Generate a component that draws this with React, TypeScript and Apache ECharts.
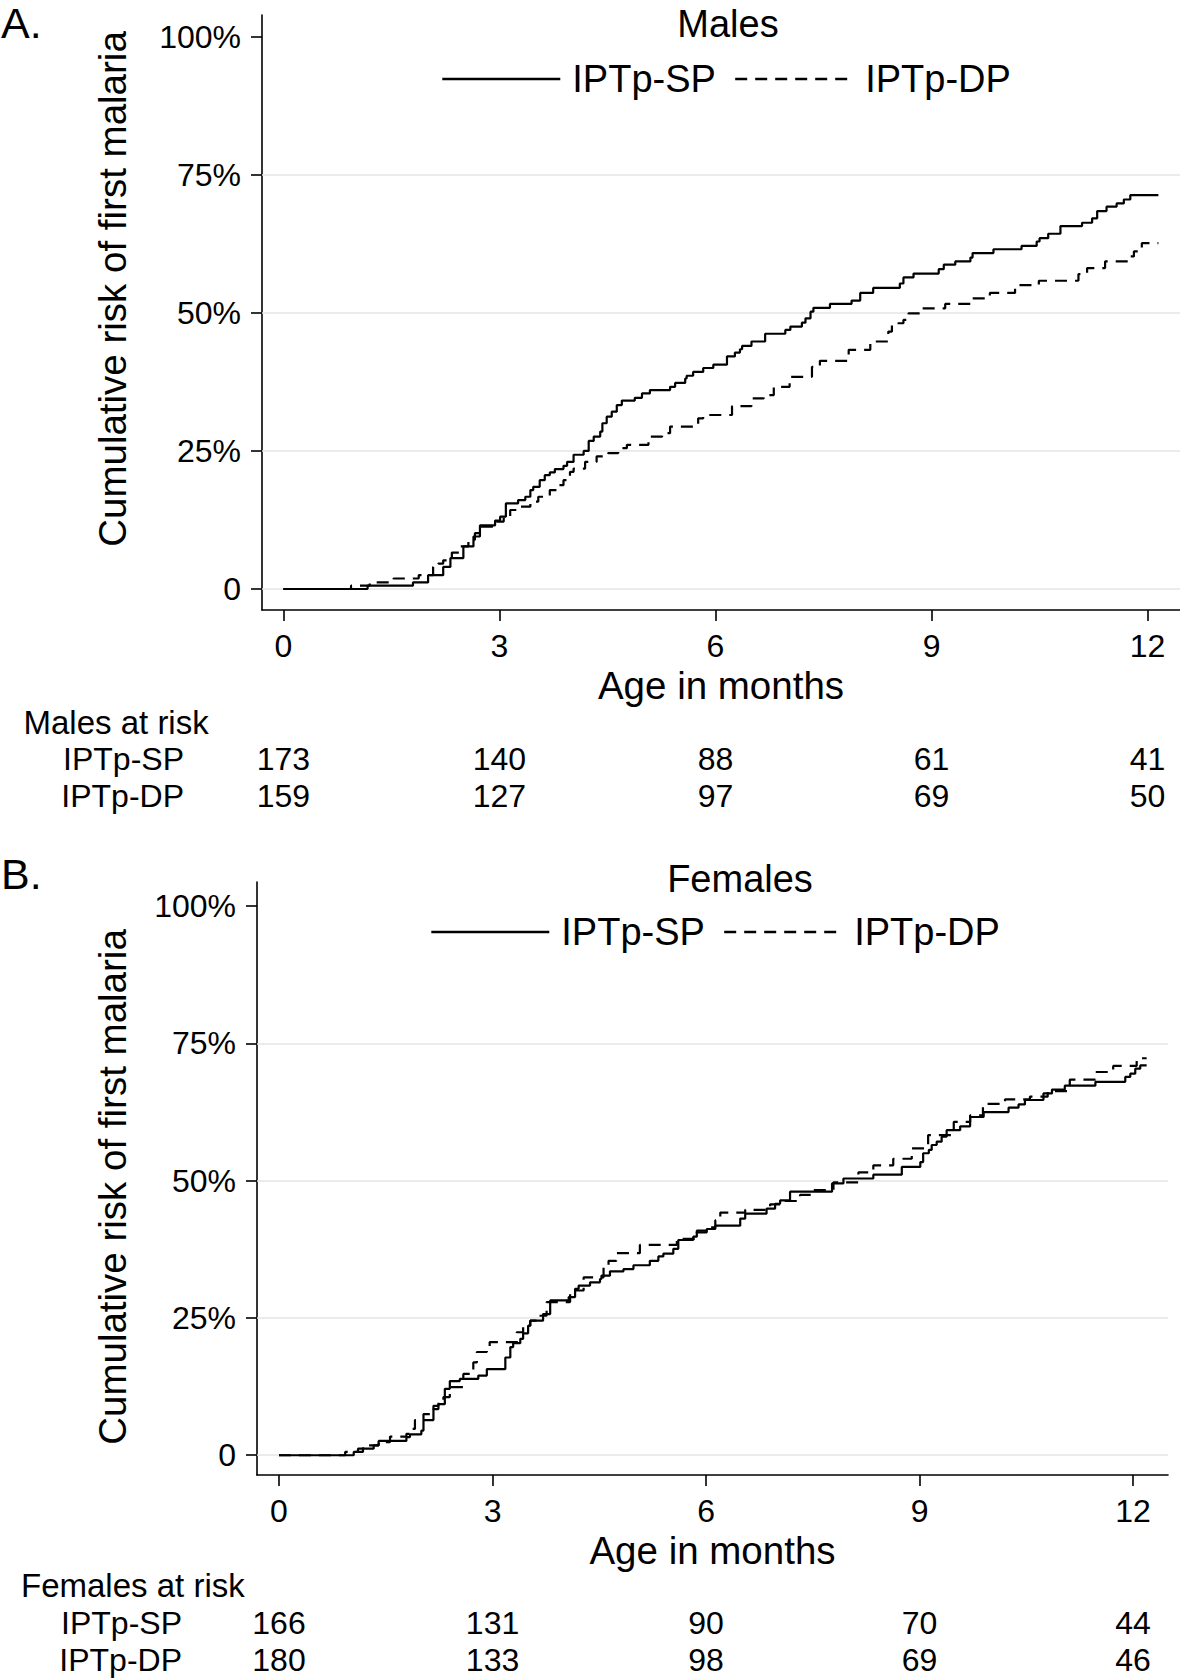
import React, { useEffect, useRef } from "react";
import * as echarts from "echarts";

// ---------- data ----------
const tickMonths = [0, 3, 6, 9, 12];
const yTicks = [0, 25, 50, 75, 100];
const gridLevels = [0, 25, 50, 75];
const groups = ["IPTp-SP", "IPTp-DP"];

// Kaplan-Meier steps: [age in months, cumulative risk %]
const maleSP = [
  [0, 0], [1.17, 0.6], [1.8, 1.2], [2.01, 2.5], [2.22, 4.0], [2.32, 5.6], [2.5, 7.7], [2.64, 9.5],
  [2.73, 11.5], [2.94, 12.4], [3.01, 13.1], [3.09, 15.5], [3.26, 16.1], [3.36, 16.7], [3.43, 17.9],
  [3.47, 18.5], [3.56, 19.7], [3.63, 20.6], [3.7, 21.1], [3.77, 21.7], [3.89, 22.3], [3.94, 23.0],
  [4.03, 24.3], [4.17, 25.0], [4.24, 26.8], [4.31, 27.6], [4.4, 28.5], [4.43, 30.0], [4.49, 31.2],
  [4.56, 32.1], [4.63, 33.3], [4.7, 34.1], [4.88, 34.6], [4.98, 35.4], [5.09, 36.0], [5.37, 36.6],
  [5.44, 37.3], [5.58, 38.1], [5.6, 38.6], [5.69, 39.3], [5.83, 40.0], [5.97, 40.6], [6.16, 42.1],
  [6.27, 42.8], [6.34, 43.4], [6.37, 44.0], [6.5, 44.8], [6.69, 46.2], [6.97, 46.9], [7.04, 47.5],
  [7.2, 48.2], [7.25, 49.0], [7.32, 50.2], [7.36, 50.9], [7.59, 51.6], [7.89, 52.2], [8.01, 53.6],
  [8.19, 54.5], [8.56, 55.3], [8.61, 56.4], [8.75, 57.1], [9.1, 57.9], [9.17, 58.7], [9.33, 59.3],
  [9.54, 60.0], [9.57, 60.8], [9.86, 61.5], [10.25, 62.1], [10.46, 62.9], [10.5, 63.5], [10.62, 64.3],
  [10.79, 65.7], [11.09, 66.3], [11.23, 67.1], [11.3, 68.4], [11.43, 69.2], [11.57, 69.8],
  [11.67, 70.5], [11.76, 71.3], [12.15, 71.3],
];
const maleDP = [
  [0, 0], [0.94, 0.6], [1.2, 1.2], [1.53, 1.9], [1.88, 2.5], [2.08, 4.0], [2.15, 4.6], [2.22, 5.2],
  [2.34, 6.6], [2.45, 7.7], [2.57, 8.9], [2.66, 10.1], [2.76, 11.3], [2.96, 12.2], [3.06, 13.1],
  [3.15, 14.3], [3.24, 14.9], [3.43, 15.8], [3.54, 16.7], [3.7, 17.9], [3.82, 18.8], [3.89, 19.7],
  [3.98, 21.2], [4.03, 21.8], [4.19, 23.0], [4.35, 24.0], [4.51, 24.6], [4.65, 25.5], [4.77, 26.1],
  [5.07, 27.6], [5.26, 28.2], [5.37, 29.4], [5.69, 29.7], [5.76, 30.9], [5.83, 31.5], [6.23, 33.1],
  [6.5, 34.5], [6.67, 35.1], [6.81, 36.6], [7.03, 38.4], [7.34, 40.2], [7.45, 41.3], [7.85, 43.3],
  [8.15, 44.8], [8.4, 46.6], [8.45, 48.1], [8.61, 48.7], [8.68, 49.9], [8.84, 50.8], [9.19, 51.6],
  [9.54, 52.6], [9.81, 53.6], [10.16, 55.0], [10.49, 55.8], [11.04, 57.0], [11.16, 58.1],
  [11.41, 59.3], [11.74, 60.2], [11.81, 61.1], [11.92, 62.6], [12.15, 62.6],
];
const femaleSP = [
  [0, 0], [1.05, 0.6], [1.18, 1.2], [1.33, 1.8], [1.4, 2.6], [1.79, 3.3], [1.84, 3.8], [2.0, 4.5],
  [2.03, 6.4], [2.17, 8.4], [2.24, 9.3], [2.33, 12.1], [2.4, 13.5], [2.54, 13.9], [2.8, 14.5],
  [2.92, 15.7], [3.18, 17.8], [3.25, 19.7], [3.29, 20.4], [3.39, 21.2], [3.43, 22.2], [3.5, 23.6],
  [3.53, 24.5], [3.71, 25.7], [3.81, 28.2], [4.07, 28.8], [4.16, 30.3], [4.21, 30.9], [4.37, 31.5],
  [4.51, 32.1], [4.53, 32.7], [4.65, 33.5], [4.84, 33.9], [4.98, 34.6], [5.21, 35.4], [5.33, 36.2],
  [5.4, 36.7], [5.54, 37.6], [5.61, 39.2], [5.82, 39.8], [5.87, 40.6], [6.01, 41.2], [6.13, 41.8],
  [6.48, 43.1], [6.55, 44.0], [6.85, 44.9], [6.97, 45.8], [7.04, 46.4], [7.18, 48.0], [7.77, 49.5],
  [7.93, 50.4], [8.35, 51.1], [8.75, 52.5], [9.01, 53.4], [9.05, 55.0], [9.13, 55.6], [9.17, 56.5],
  [9.24, 57.1], [9.31, 58.0], [9.38, 59.2], [9.57, 59.9], [9.71, 61.6], [9.9, 62.5], [10.25, 63.3],
  [10.39, 63.9], [10.48, 64.7], [10.74, 65.9], [10.86, 66.6], [11.04, 67.3], [11.47, 68.0],
  [11.89, 68.9], [11.96, 69.5], [12.03, 70.4], [12.1, 71.0], [12.19, 71.0],
];
const femaleDP = [
  [0, 0], [0.93, 0.6], [1.11, 1.2], [1.18, 1.8], [1.4, 2.4], [1.56, 3.4], [1.79, 3.9], [1.84, 4.8],
  [1.91, 6.4], [2.03, 7.5], [2.17, 9.0], [2.24, 10.1], [2.31, 10.6], [2.4, 12.4], [2.59, 14.8],
  [2.73, 16.9], [2.78, 18.8], [2.92, 19.7], [2.96, 20.6], [3.34, 22.4], [3.43, 23.6], [3.53, 24.5],
  [3.62, 25.4], [3.76, 27.9], [4.09, 30.0], [4.28, 32.4], [4.56, 34.5], [4.63, 35.4], [4.74, 36.8],
  [5.07, 38.3], [5.59, 39.4], [5.87, 40.9], [6.06, 41.5], [6.13, 42.8], [6.2, 44.2], [6.55, 44.7],
  [6.9, 45.7], [7.1, 46.3], [7.32, 47.4], [7.51, 48.3], [7.79, 49.7], [8.14, 51.5], [8.35, 52.8],
  [8.63, 54.0], [8.89, 55.9], [9.12, 58.3], [9.48, 60.7], [9.71, 61.9], [9.89, 64.0], [10.2, 64.8],
  [10.55, 65.3], [10.8, 66.3], [11.11, 68.4], [11.47, 69.8], [11.72, 70.9], [12.05, 72.3],
  [12.19, 72.3],
];

// numbers at risk at 0, 3, 6, 9, 12 months
const maleAtRiskSP = [173, 140, 88, 61, 41];
const maleAtRiskDP = [159, 127, 97, 69, 50];
const femaleAtRiskSP = [166, 131, 90, 70, 44];
const femaleAtRiskDP = [180, 133, 98, 69, 46];

// ---------- layout / style ----------
const FONT = "'Liberation Sans', Arial, Helvetica, sans-serif";
const BLACK = "#000";

const layoutA = {
  left: 262, top: 15, width: 918, height: 595,
  xMin: -0.296, xMax: 12.45, yMin: -3.8, yMax: 103.9,
  tableTop: 740, rowMargin: 78, legendLeft: 436, legendTop: 55,
  letter: "A.", letterY: 23, title: "Males", titleX: 728, titleY: 23.5,
  yTitleX: 112, yTitleY: 289, riskHeader: "Males at risk", riskX: 23.5, riskY: 722,
};
const layoutB = {
  left: 257, top: 882, width: 911, height: 593,
  xMin: -0.309, xMax: 12.49, yMin: -3.6, yMax: 104.4,
  tableTop: 1604.5, rowMargin: 75, legendLeft: 425, legendTop: 908,
  letter: "B.", letterY: 874, title: "Females", titleX: 740, titleY: 879,
  yTitleX: 112, yTitleY: 1187, riskHeader: "Females at risk", riskX: 21, riskY: 1585.5,
};

function buildPanel(i: number, L: any, sp: number[][], dp: number[][], rSP: number[], rDP: number[]) {
  const g = i * 2;
  const axisLineStyle = { color: BLACK, width: 1.6 };
  const grids = [
    { left: L.left, top: L.top, width: L.width, height: L.height },
    { left: L.left, top: L.tableTop, width: L.width, height: 74 },
  ];
  const xAxes = [
    {
      gridIndex: g, type: "value", min: L.xMin, max: L.xMax,
      name: "Age in months", nameLocation: "middle", nameGap: 56,
      nameTextStyle: { fontSize: 38.5, color: BLACK, fontFamily: FONT },
      axisLine: { show: true, onZero: false, lineStyle: axisLineStyle },
      axisTick: { show: true, customValues: tickMonths, length: 11, lineStyle: axisLineStyle },
      axisLabel: { customValues: tickMonths, fontSize: 32, color: BLACK, margin: 20, fontFamily: FONT },
      splitLine: { show: false },
    },
    { gridIndex: g + 1, type: "value", min: L.xMin, max: L.xMax, show: false },
  ];
  const yAxes = [
    {
      gridIndex: g, type: "value", min: L.yMin, max: L.yMax,
      axisLine: { show: true, onZero: false, lineStyle: axisLineStyle },
      axisTick: { show: true, customValues: yTicks, length: 11, lineStyle: axisLineStyle },
      axisLabel: {
        customValues: yTicks, fontSize: 32, color: BLACK, margin: 21, fontFamily: FONT,
        formatter: (v: number) => (v === 0 ? "0" : v + "%"),
      },
      splitLine: { show: false },
    },
    {
      gridIndex: g + 1, type: "category", data: groups, inverse: true,
      axisLine: { show: false }, axisTick: { show: false }, splitLine: { show: false },
      axisLabel: { interval: 0, fontSize: 32, color: BLACK, margin: L.rowMargin, fontFamily: FONT },
    },
  ];
  const riskLabel = {
    show: true, position: "inside", fontSize: 32, color: BLACK, fontFamily: FONT,
    textBorderWidth: 0, opacity: 1,
    formatter: (p: any) => String(p.value[2]),
  };
  const series = [
    {
      type: "line", name: "grid" + i, xAxisIndex: g, yAxisIndex: g, data: [], z: 1, silent: true,
      markLine: {
        silent: true, z: 1, symbol: ["none", "none"], label: { show: false },
        lineStyle: { color: "#e4e4e4", width: 1.5, type: "solid" },
        emphasis: { disabled: true },
        data: gridLevels.map((v) => ({ yAxis: v })),
      },
    },
    {
      type: "line", name: groups[0], xAxisIndex: g, yAxisIndex: g, data: sp, step: "end",
      symbol: "none", showSymbol: false, z: 3,
      lineStyle: { color: BLACK, width: 2.2, type: "solid" },
    },
    {
      type: "line", name: groups[1], xAxisIndex: g, yAxisIndex: g, data: dp, step: "end",
      symbol: "none", showSymbol: false, z: 3,
      lineStyle: { color: BLACK, width: 2.2, type: [12, 8] },
    },
    {
      type: "scatter", name: "risk" + i + "sp", xAxisIndex: g + 1, yAxisIndex: g + 1,
      data: tickMonths.map((m, k) => [m, 0, rSP[k]]), symbolSize: 1,
      itemStyle: { color: "rgba(0,0,0,0)" }, label: riskLabel, silent: true,
    },
    {
      type: "scatter", name: "risk" + i + "dp", xAxisIndex: g + 1, yAxisIndex: g + 1,
      data: tickMonths.map((m, k) => [m, 1, rDP[k]]), symbolSize: 1,
      itemStyle: { color: "rgba(0,0,0,0)" }, label: riskLabel, silent: true,
    },
  ];
  const legend = {
    data: groups, left: L.legendLeft, top: L.legendTop, orient: "horizontal",
    itemWidth: 118, itemHeight: 20, itemGap: 18, selectedMode: false,
    textStyle: { fontSize: 38, color: BLACK, fontFamily: FONT, padding: [0, 0, 0, 7] },
    lineStyle: { width: 2.6 },
    itemStyle: { opacity: 0, borderWidth: 0 },
  };
  const txt = (text: string, x: number, y: number, size: number, align: string, rot = 0) => ({
    type: "text", x, y, rotation: rot, silent: true,
    style: { text, fontSize: size, fontFamily: FONT, fill: BLACK, align, verticalAlign: "middle" },
  });
  const graphic = [
    txt(L.letter, 1, L.letterY, 43, "left"),
    txt(L.title, L.titleX, L.titleY, 38, "center"),
    txt("Cumulative risk of first malaria", L.yTitleX, L.yTitleY, 38.5, "center", Math.PI / 2),
    txt(L.riskHeader, L.riskX, L.riskY, 33, "left"),
  ];
  return { grids, xAxes, yAxes, series, legend, graphic };
}

export default function App() {
  const ref = useRef<HTMLDivElement>(null);
  useEffect(() => {
    document.body.style.margin = "0";
    if (!ref.current) return;
    const chart = echarts.init(ref.current, undefined, { renderer: "svg" });
    const a = buildPanel(0, layoutA, maleSP, maleDP, maleAtRiskSP, maleAtRiskDP);
    const b = buildPanel(1, layoutB, femaleSP, femaleDP, femaleAtRiskSP, femaleAtRiskDP);
    chart.setOption({
      animation: false,
      backgroundColor: "#fff",
      textStyle: { fontFamily: FONT },
      grid: [...a.grids, ...b.grids],
      xAxis: [...a.xAxes, ...b.xAxes],
      yAxis: [...a.yAxes, ...b.yAxes],
      series: [...a.series, ...b.series],
      legend: [a.legend, b.legend],
      graphic: [...a.graphic, ...b.graphic],
    } as any);
    return () => chart.dispose();
  }, []);
  return <div ref={ref} style={{ width: 1180, height: 1678 }} />;
}
